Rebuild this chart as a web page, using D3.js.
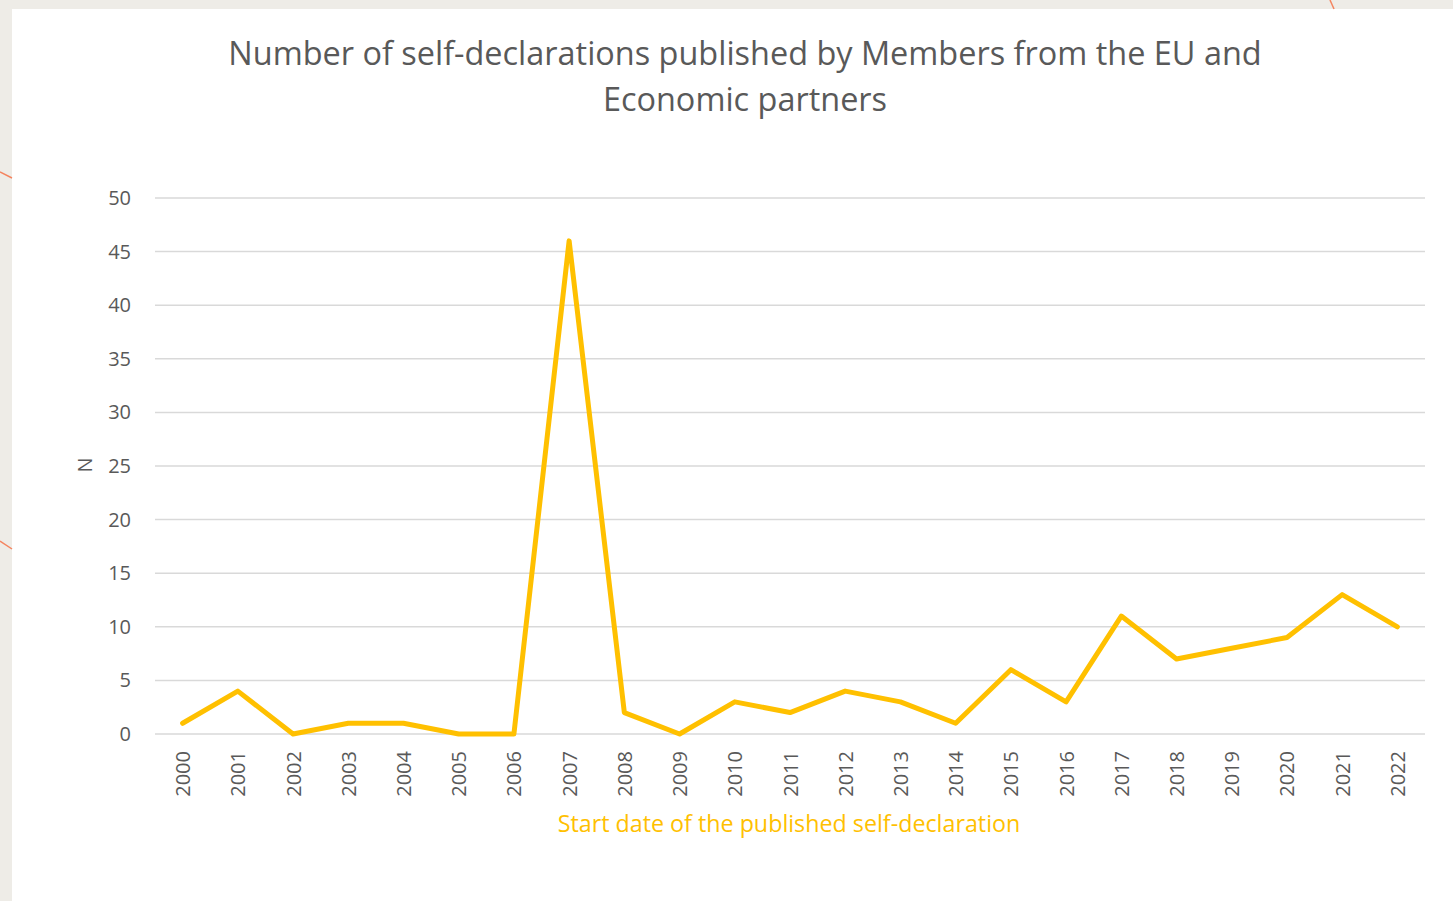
<!DOCTYPE html>
<html><head><meta charset="utf-8">
<script src="https://cdn.jsdelivr.net/npm/d3@7"></script>
<style>
html,body{margin:0;padding:0;background:#EEECE7;}
svg{display:block;}
</style></head>
<body>
<svg id="chart" width="1453" height="901"></svg>
<script>
const years = ["2000","2001","2002","2003","2004","2005","2006","2007","2008","2009","2010","2011","2012","2013","2014","2015","2016","2017","2018","2019","2020","2021","2022"];
const counts = [1,4,0,1,1,0,0,46,2,0,3,2,4,3,1,6,3,11,7,8,9,13,10];
const yTicks = [0,5,10,15,20,25,30,35,40,45,50];
const titleLines = ["Number of self-declarations published by Members from the EU and","Economic partners"];
const xTitle = "Start date of the published self-declaration";
const yTitle = "N";

const svg = d3.select("#chart");
const font = "'Open Sans', 'Noto Sans', sans-serif";

// white panel
svg.append("rect").attr("x",12).attr("y",9).attr("width",1441).attr("height",892).attr("fill","#fff");
// decorative curves
svg.append("path").attr("d","M0,172 L12,178").attr("stroke","#F4845F").attr("stroke-width",1.5).attr("fill","none");
svg.append("path").attr("d","M0,541 L12,549").attr("stroke","#F4845F").attr("stroke-width",1.5).attr("fill","none");
svg.append("path").attr("d","M1330,0 L1334,9").attr("stroke","#F4845F").attr("stroke-width",1.5).attr("fill","none");

const pLeft=155, pRight=1425, pTop=198, pBottom=734;
const x = d3.scalePoint().domain(years).range([pLeft,pRight]).padding(0.5);
const y = d3.scaleLinear().domain([0,50]).range([pBottom,pTop]);

// gridlines
svg.append("g").selectAll("line").data(yTicks).join("line")
  .attr("x1",pLeft).attr("x2",pRight)
  .attr("y1",d=>y(d)).attr("y2",d=>y(d))
  .attr("stroke","#D9D9D9").attr("stroke-width",1.5);

// y axis
const yAxis = svg.append("g").attr("transform",`translate(${pLeft},0)`)
  .call(d3.axisLeft(y).tickValues(yTicks).tickSize(0).tickPadding(24));
yAxis.select(".domain").remove();
yAxis.selectAll("text").attr("font-family",font).attr("font-size",20).attr("fill","#595959");

// x axis
const xAxis = svg.append("g").attr("transform",`translate(0,${pBottom})`)
  .call(d3.axisBottom(x).tickSize(0));
xAxis.select(".domain").remove();
xAxis.selectAll("text")
  .attr("font-family",font).attr("font-size",20).attr("fill","#595959")
  .attr("transform","rotate(-90)")
  .attr("text-anchor","end")
  .attr("x",-17).attr("y",0).attr("dy","0.35em");

// line
const line = d3.line().x((d,i)=>x(years[i])).y(d=>y(d));
svg.append("path").datum(counts).attr("d",line)
  .attr("fill","none").attr("stroke","#FFC000").attr("stroke-width",5)
  .attr("stroke-linejoin","round").attr("stroke-linecap","round");

function fit(sel, target){
  const w = sel.node().getComputedTextLength();
  const fs = parseFloat(sel.attr("font-size"));
  sel.attr("font-size", fs*target/w);
}

// titles
const t1 = svg.append("text").attr("x",745).attr("y",65)
  .attr("text-anchor","middle").attr("font-family",font).attr("font-size",30).attr("fill","#595959")
  .text(titleLines[0]);
fit(t1, 1034);
const fsT = t1.attr("font-size");
svg.append("text").attr("x",745).attr("y",111)
  .attr("text-anchor","middle").attr("font-family",font).attr("font-size",fsT).attr("fill","#595959")
  .text(titleLines[1]);

const xt = svg.append("text").attr("x",789).attr("y",832).attr("text-anchor","middle")
  .attr("font-family",font).attr("font-size",22).attr("fill","#FFC000").text(xTitle);
fit(xt, 463);

svg.append("text").attr("transform","translate(92,465) rotate(-90)").attr("text-anchor","middle")
  .attr("font-family",font).attr("font-size",20).attr("fill","#595959").text(yTitle);
</script>
</body></html>
